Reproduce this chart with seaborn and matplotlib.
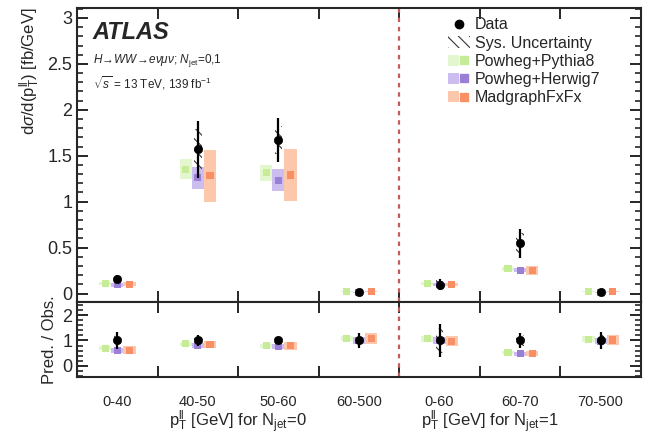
import numpy as np
import pandas as pd
import matplotlib
matplotlib.use('Agg')
import matplotlib.pyplot as plt
import seaborn as sns
from matplotlib.patches import Rectangle, Patch
from matplotlib.lines import Line2D
from matplotlib.legend_handler import HandlerTuple
from matplotlib.ticker import MultipleLocator

# bins: 4 for Njet=0, 3 for Njet=1
bins = ['0-40', '40-50', '50-60', '60-500', '0-60', '60-70', '70-500']

data = [0.156, 1.57, 1.67, 0.015, 0.098, 0.545, 0.015]
data_err = [0.045, 0.31, 0.24, 0.01, 0.06, 0.16, 0.01]
data_sys = [0.03, 0.22, 0.15, 0.005, 0.05, 0.11, 0.005]

pythia = [0.11, 1.355, 1.315, 0.02, 0.109, 0.27, 0.02]
pythia_err = [0.015, 0.11, 0.086, 0.005, 0.012, 0.02, 0.005]
herwig = [0.095, 1.26, 1.235, 0.015, 0.098, 0.254, 0.015]
herwig_err = [0.02, 0.12, 0.12, 0.005, 0.012, 0.02, 0.005]
madgraph = [0.10, 1.28, 1.29, 0.02, 0.098, 0.254, 0.02]
madgraph_err = [0.02, 0.285, 0.285, 0.008, 0.015, 0.05, 0.008]

ratio_data_err = [0.35, 0.2, 0.15, 0.3, 0.66, 0.3, 0.34]
ratio_data_sys = [0.25, 0.14, 0.1, 0.15, 0.5, 0.2, 0.2]
pythia_ratio = [0.69, 0.88, 0.79, 1.08, 1.07, 0.51, 1.05]
pythia_ratio_err = [0.08, 0.08, 0.08, 0.1, 0.12, 0.06, 0.12]
herwig_ratio = [0.62, 0.82, 0.75, 1.0, 1.0, 0.47, 0.97]
herwig_ratio_err = [0.1, 0.1, 0.1, 0.12, 0.12, 0.07, 0.12]
madgraph_ratio = [0.62, 0.84, 0.79, 1.08, 0.97, 0.5, 1.02]
madgraph_ratio_err = [0.15, 0.15, 0.15, 0.23, 0.2, 0.1, 0.2]

models = [
    ('Powheg+Pythia8', pythia, pythia_err, pythia_ratio, pythia_ratio_err, '#c6ec98', '#e3f6cf', -0.15),
    ('Powheg+Herwig7', herwig, herwig_err, herwig_ratio, herwig_ratio_err, '#9a7fd6', '#cbbdf0', 0.0),
    ('MadgraphFxFx', madgraph, madgraph_err, madgraph_ratio, madgraph_ratio_err, '#f98f64', '#fdc7ab', 0.15),
]

sns.set_theme(style='ticks')
plt.rcParams['font.family'] = ['Liberation Sans', 'DejaVu Sans']
plt.rcParams['mathtext.fontset'] = 'custom'
plt.rcParams['mathtext.rm'] = 'Liberation Sans'
plt.rcParams['mathtext.it'] = 'Liberation Sans:italic'
plt.rcParams['hatch.linewidth'] = 0.8

fig = plt.figure(figsize=(6.48, 4.38), dpi=100)
ax = fig.add_axes([0.119, 0.311, 0.870, 0.671])
rax = fig.add_axes([0.119, 0.140, 0.870, 0.171])

centers = np.arange(len(bins)) + 0.5


def draw_panel(a, vals_data, err, sys, model_vals):
    for name, vals, errs, off, dark, light in model_vals:
        for xc, v, e in zip(centers, vals, errs):
            a.add_patch(Rectangle((xc + off - 0.075, v - e), 0.15, 2 * e,
                                  facecolor=light, edgecolor='none', zorder=2))
        df = pd.DataFrame({'x': centers + off, 'y': vals})
        sns.scatterplot(data=df, x='x', y='y', marker='s', s=26, color=dark,
                        edgecolor='none', ax=a, zorder=3, legend=False)
    for xc, v, s in zip(centers, vals_data, sys):
        a.add_patch(Rectangle((xc - 0.045, v - s), 0.09, 2 * s, facecolor='none',
                              edgecolor='#333333', linewidth=0, hatch='\\\\\\', zorder=4))
    a.errorbar(centers, vals_data, yerr=err, fmt='none', ecolor='black',
               elinewidth=1.6, capsize=0, zorder=5)
    dfd = pd.DataFrame({'x': centers, 'y': vals_data})
    sns.scatterplot(data=dfd, x='x', y='y', marker='o', s=36, color='black',
                    edgecolor='black', ax=a, zorder=6, legend=False)


draw_panel(ax, data, data_err, data_sys,
           [(m[0], m[1], m[2], m[7], m[5], m[6]) for m in models])
draw_panel(rax, [1.0] * len(bins), ratio_data_err, ratio_data_sys,
           [(m[0], m[3], m[4], m[7], m[5], m[6]) for m in models])

for a in (ax, rax):
    a.set_xlim(0, len(bins))
    a.set_xticks(np.arange(1, len(bins)))
    a.set_xticklabels([])
    a.tick_params(axis='x', which='major', direction='in', top=True, bottom=True,
                  length=8, width=1.4)
    a.tick_params(axis='y', which='major', direction='in', left=True, right=True,
                  length=8, width=1.4, labelsize=13)
    a.tick_params(axis='y', which='minor', direction='in', left=True, right=True,
                  length=4, width=1.2)
    for sp in a.spines.values():
        sp.set_linewidth(1.5)
    a.axvline(4, color='#c45a5a', linestyle=(0, (2, 2.2)), linewidth=1.6, zorder=1)
    a.set_xlabel('')
    a.set_ylabel('')

ax.set_ylim(-0.09, 3.11)
ax.yaxis.set_major_locator(MultipleLocator(0.5))
ax.yaxis.set_minor_locator(MultipleLocator(0.1))
ax.set_yticks([0, 0.5, 1, 1.5, 2, 2.5, 3])
ax.set_yticklabels(['0', '0.5', '1', '1.5', '2', '2.5', '3'])
ax.set_ylabel(r'd$\sigma$/d(p$_\mathrm{T}^\mathrm{ll}$) [fb/GeV]', fontsize=12, loc='top')

rax.set_ylim(-0.43, 2.53)
rax.set_yticks([0, 1, 2])
rax.yaxis.set_minor_locator(MultipleLocator(0.2))
rax.set_ylabel('Pred. / Obs.', fontsize=12)
rax.set_xticks(centers, minor=True)
rax.set_xticklabels(bins, minor=True, fontsize=10.5)
rax.tick_params(axis='x', which='minor', length=0, pad=13)

fig.align_ylabels([ax, rax])

fig.text(0.119 + 0.870 * 2.0 / 7, 0.026,
         r'p$_\mathrm{T}^\mathrm{ll}$ [GeV] for N$_\mathrm{jet}$=0',
         ha='center', va='baseline', fontsize=12)
fig.text(0.119 + 0.870 * 5.12 / 7, 0.026,
         r'p$_\mathrm{T}^\mathrm{ll}$ [GeV] for N$_\mathrm{jet}$=1',
         ha='center', va='baseline', fontsize=12)

ax.text(0.028, 0.955, 'ATLAS', transform=ax.transAxes, fontsize=17,
        fontweight='bold', fontstyle='italic', va='top')
ax.text(0.028, 0.82, r'$H\!\rightarrow\! WW\!\rightarrow\! e\nu\mu\nu$; $N_\mathrm{jet}$=0,1',
        transform=ax.transAxes, fontsize=8.5, va='center')
ax.text(0.028, 0.745, r'$\sqrt{s}$ = 13 TeV, 139 fb$^{-1}$',
        transform=ax.transAxes, fontsize=8.5, va='center')

handles = [
    Line2D([], [], marker='o', color='black', linestyle='none', markersize=6),
    Patch(facecolor='none', edgecolor='#333333', linewidth=0, hatch='\\\\\\'),
]
labels = ['Data', 'Sys. Uncertainty']
for m in models:
    handles.append((Patch(facecolor=m[6], edgecolor='none'),
                    Line2D([], [], marker='s', color=m[5], linestyle='none', markersize=6)))
    labels.append(m[0])
ax.legend(handles, labels, loc='upper left', bbox_to_anchor=(0.64, 1.0), frameon=False,
          fontsize=11.5, handlelength=1.4, handletextpad=0.3, labelspacing=0.2,
          borderaxespad=0.2, handler_map={tuple: HandlerTuple(ndivide=None, pad=0)})

fig.savefig('out.png', dpi=100)
